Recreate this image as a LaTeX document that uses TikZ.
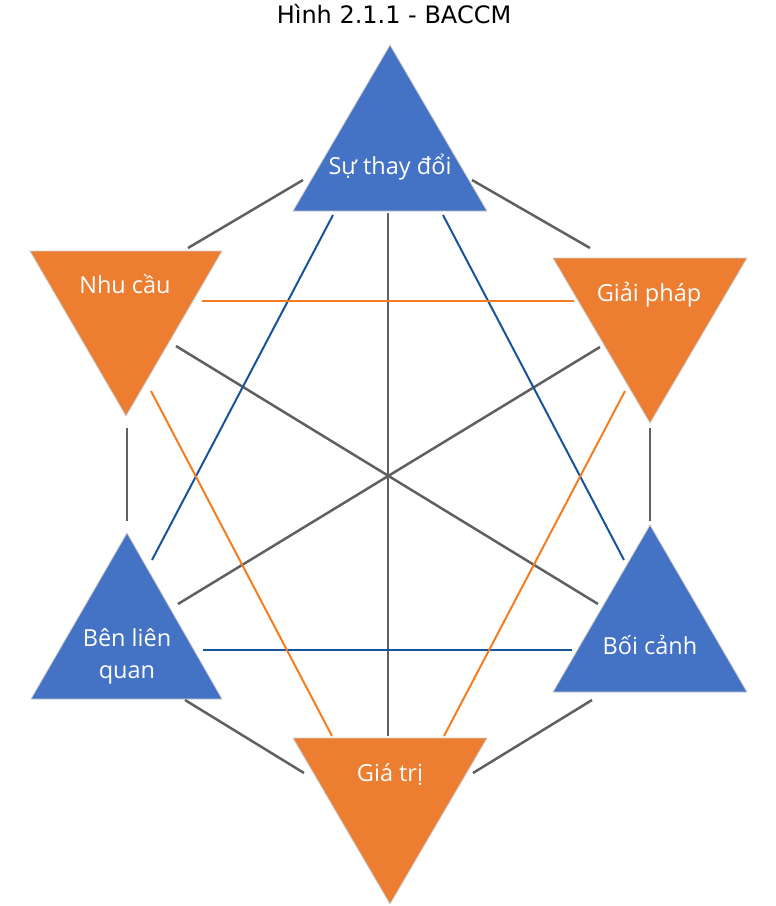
\documentclass[tikz,border=0pt]{standalone}
\usepackage{fontspec}
\setmainfont{Open Sans}
\newfontfamily\titlefont{DejaVu Sans}
\definecolor{BACblue}{RGB}{68,114,196}
\definecolor{BACorange}{RGB}{237,125,49}
\definecolor{linkblue}{RGB}{22,84,155}
\definecolor{linkorange}{RGB}{245,124,32}
\definecolor{linkgray}{RGB}{96,96,96}

\begin{document}
\begin{tikzpicture}[x=1pt, y=-1pt,
    tri/.style={draw=black!20, line width=0.8pt},
    tritext/.style={text=white, font=\fontsize{23.5}{32}\selectfont, anchor=base, align=center, inner sep=0pt},
    grayline/.style={linkgray, line width=2.5pt},
    blueline/.style={linkblue, line width=2pt},
    orangeline/.style={linkorange, line width=2pt}
]
    \useasboundingbox (0,0) rectangle (776,906);

    \node (title) [font=\titlefont\fontsize{24}{28}\selectfont, anchor=base] at (394,23) {Hình 2.1.1 - BACCM};

    % triangles
    \filldraw[tri, fill=BACblue] (390,45) -- (487,211) -- (293,211) -- cycle;
    \filldraw[tri, fill=BACorange] (30,251) -- (222,251) -- (126,416) -- cycle;
    \filldraw[tri, fill=BACorange] (553,258) -- (747,258) -- (650,423) -- cycle;
    \filldraw[tri, fill=BACblue] (127,533) -- (222,699) -- (31,699) -- cycle;
    \filldraw[tri, fill=BACblue] (650,525) -- (747,692) -- (553,692) -- cycle;
    \filldraw[tri, fill=BACorange] (293,738) -- (487,738) -- (390,904) -- cycle;

    \node (change) [tritext] at (390,174) {Sự thay đổi};
    \node (need) [tritext] at (125,293) {Nhu cầu};
    \node (solution) [tritext] at (649,301) {Giải pháp};
    \node (stake) [tritext, anchor=center] at (127,656) {Bên liên\\quan};
    \node (context) [tritext] at (650,654) {Bối cảnh};
    \node (value) [tritext] at (390,781) {Giá trị};

    % line ends
    \coordinate (change-need) at (303,180);
    \coordinate (need-change) at (188,248);
    \coordinate (change-solution) at (472,180);
    \coordinate (solution-change) at (590,248);
    \coordinate (need-stake) at (127,428);
    \coordinate (stake-need) at (127,521);
    \coordinate (solution-context) at (650,428);
    \coordinate (context-solution) at (650,521);
    \coordinate (stake-value) at (185,700);
    \coordinate (value-stake) at (304,773);
    \coordinate (context-value) at (592,700);
    \coordinate (value-context) at (473,773);

    \coordinate (change-value) at (388,213);
    \coordinate (value-change) at (388,736);
    \coordinate (need-context) at (176,346);
    \coordinate (context-need) at (598,604);
    \coordinate (solution-stake) at (600,347);
    \coordinate (stake-solution) at (178,604);

    \coordinate (change-stake) at (333,215);
    \coordinate (stake-change) at (152,560);
    \coordinate (change-context) at (443,215);
    \coordinate (context-change) at (624,560);
    \coordinate (stake-context) at (203,650);
    \coordinate (context-stake) at (572,650);

    \coordinate (need-solution) at (202,301);
    \coordinate (solution-need) at (574,301);
    \coordinate (need-value) at (151,391);
    \coordinate (value-need) at (332,736);
    \coordinate (solution-value) at (625,391);
    \coordinate (value-solution) at (444,736);

    % outer ring
    \draw[grayline] (change-need) -- (need-change);
    \draw[grayline] (change-solution) -- (solution-change);
    \draw[grayline] (need-stake) -- (stake-need);
    \draw[grayline] (solution-context) -- (context-solution);
    \draw[grayline] (stake-value) -- (value-stake);
    \draw[grayline] (context-value) -- (value-context);

    % across the middle
    \draw[grayline] (change-value) -- (value-change);
    \draw[grayline] (need-context) -- (context-need);
    \draw[grayline] (solution-stake) -- (stake-solution);

    \draw[blueline] (change-stake) -- (stake-change);
    \draw[blueline] (change-context) -- (context-change);
    \draw[blueline] (stake-context) -- (context-stake);

    \draw[orangeline] (need-solution) -- (solution-need);
    \draw[orangeline] (need-value) -- (value-need);
    \draw[orangeline] (solution-value) -- (value-solution);
\end{tikzpicture}
\end{document}
